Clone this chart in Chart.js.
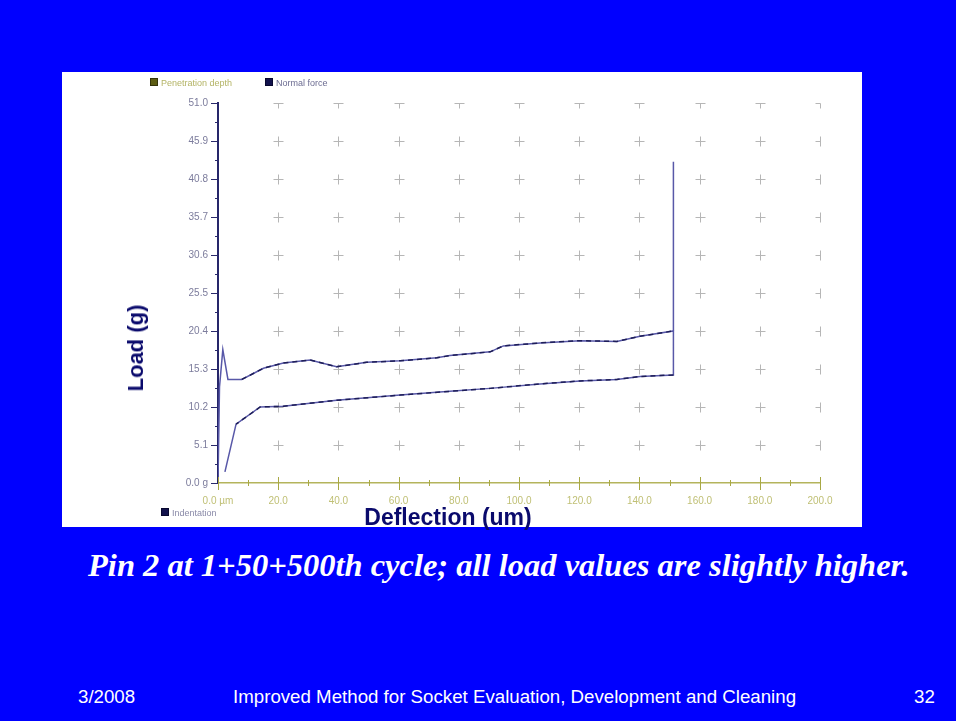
<!DOCTYPE html>
<html>
<head>
<meta charset="utf-8">
<script src="https://cdn.jsdelivr.net/npm/chart.js@4.4.0/dist/chart.umd.min.js"></script>
<style>
    body {
        margin: 0;
        width: 956px;
        height: 721px;
        overflow: hidden;
        position: relative;
        background: #0000ff;
        font-family: Arial, "Liberation Sans", sans-serif;
    }
    #panel {
        position: absolute;
        left: 62px;
        top: 72px;
        width: 800px;
        height: 455px;
        background: #ffffff;
    }
    #chart1 { position: absolute; left: 0; top: 0; }
    .legend {
        position: absolute;
        font-size: 9px;
        line-height: 9px;
        white-space: nowrap;
    }
    .legend i {
        display: inline-block;
        width: 6px;
        height: 6px;
        margin-right: 3px;
    }
    .axis-title {
        position: absolute;
        font-weight: bold;
        color: #0a0a6c;
        white-space: nowrap;
    }
    #yTitle {
        left: 136px;
        top: 348px;
        font-size: 22px;
        transform: translate(-50%, -50%) rotate(-90deg);
    }
    #xTitle {
        left: 448px;
        top: 517px;
        font-size: 23px;
        transform: translate(-50%, -50%);
    }
    #caption {
        position: absolute;
        left: 88px;
        top: 547px;
        color: #ffffff;
        font-family: "Liberation Serif", "Times New Roman", serif;
        font-weight: bold;
        font-style: italic;
        font-size: 32.5px;
        white-space: nowrap;
    }
    .footer {
        position: absolute;
        top: 686px;
        color: #ffffff;
        font-size: 18.7px;
        white-space: nowrap;
    }
</style>
</head>
<body>

<div id="panel">
    <canvas id="chart1" width="800" height="455"></canvas>
    <div class="legend" style="left: 88px; top: 6px;">
        <i style="background:#5c5c12; border:1px solid #34340a;"></i><span style="color:#b4b466;">Penetration depth</span>
        <span style="display:inline-block; width:28px;"></span>
        <i style="background:#12124c; border:1px solid #08082e;"></i><span style="color:#6c6c92;">Normal force</span>
    </div>
    <div class="legend" style="left: 99px; top: 436px;">
        <i style="background:#12124c; border:1px solid #08082e;"></i><span style="color:#8a8aa8;">Indentation</span>
    </div>
</div>

<div id="yTitle" class="axis-title">Load (g)</div>
<div id="xTitle" class="axis-title">Deflection (um)</div>

<div id="caption">Pin 2 at 1+50+500th cycle; all load values are slightly higher.</div>

<div class="footer" style="left: 78px;">3/2008</div>
<div class="footer" style="left: 233px;">Improved Method for Socket Evaluation, Development and Cleaning</div>
<div class="footer" style="left: 914px;">32</div>

<script>
// loading stroke (deflection um, load g)
const loadX = [0, 0.5, 1.6, 3.3, 7.9, 15.1, 21.7, 30.6, 39.4, 49.4, 60.5, 72.7, 77.0, 90.4, 94.8, 107.0, 120.3, 132.5, 140.2, 151.3];
const loadY = [0, 12.9, 17.9, 13.9, 13.9, 15.4, 16.1, 16.5, 15.6, 16.2, 16.4, 16.8, 17.1, 17.6, 18.4, 18.8, 19.1, 19.0, 19.7, 20.4];

// force spike at full travel
const peakX = [151.3];
const peakY = [43.1];

// unloading stroke
const unloadX = [151.3, 140.2, 132.5, 120.3, 107.0, 90.4, 77.0, 60.5, 39.4, 21.7, 14.0, 6.0, 2.3];
const unloadY = [14.5, 14.3, 13.9, 13.7, 13.3, 12.7, 12.3, 11.8, 11.1, 10.3, 10.2, 7.9, 1.5];

const xTicks = [0, 20, 40, 60, 80, 100, 120, 140, 160, 180, 200];
const xTickLabels = ['0.0 µm', '20.0', '40.0', '60.0', '80.0', '100.0', '120.0', '140.0', '160.0', '180.0', '200.0'];
const yTicks = [0, 5.1, 10.2, 15.3, 20.4, 25.5, 30.6, 35.7, 40.8, 45.9, 51.0];
const yTickLabels = ['0.0 g', '5.1', '10.2', '15.3', '20.4', '25.5', '30.6', '35.7', '40.8', '45.9', '51.0'];

function toPoints(xs, ys) {
    return xs.map(function (x, i) { return { x: x, y: ys[i] }; });
}

const tracePoints = toPoints(loadX, loadY)
    .concat(toPoints(peakX, peakY))
    .concat(toPoints(unloadX, unloadY));

// grid crosses behind the trace, axis tick marks on top
const axisMarks = {
    id: 'axisMarks',
    beforeDatasetsDraw(chart) {
        const ctx = chart.ctx;
        const xs = chart.scales.x, ys = chart.scales.y;
        ctx.save();
        ctx.strokeStyle = '#b6b6b6';
        ctx.lineWidth = 1;
        xTicks.slice(1).forEach(function (xv) {
            yTicks.slice(1).forEach(function (yv) {
                const px = Math.round(xs.getPixelForValue(xv)) + 0.5;
                const py = Math.round(ys.getPixelForValue(yv)) + 0.5;
                const lastCol = xv === xTicks[xTicks.length - 1];
                const topRow = yv === yTicks[yTicks.length - 1];
                ctx.beginPath();
                ctx.moveTo(px - 5, py);
                ctx.lineTo(lastCol ? px : px + 5, py);
                ctx.moveTo(px, topRow ? py : py - 5);
                ctx.lineTo(px, py + 5);
                ctx.stroke();
            });
        });
        ctx.restore();
    },
    afterDraw(chart) {
        const ctx = chart.ctx;
        const xs = chart.scales.x, ys = chart.scales.y;
        const ax = Math.round(xs.getPixelForValue(0));
        const ay = Math.round(ys.getPixelForValue(0));
        ctx.save();
        ctx.lineWidth = 1;

        // y axis: major every tick, minor halfway
        ctx.strokeStyle = '#2a2a6c';
        ctx.beginPath();
        yTicks.forEach(function (yv, i) {
            const py = Math.round(ys.getPixelForValue(yv)) + 0.5;
            ctx.moveTo(ax - 7, py);
            ctx.lineTo(ax, py);
            if (i > 0) {
                const my = Math.round(ys.getPixelForValue((yv + yTicks[i - 1]) / 2)) + 0.5;
                ctx.moveTo(ax - 3, my);
                ctx.lineTo(ax, my);
            }
        });
        ctx.stroke();

        // x axis
        ctx.strokeStyle = '#a8a844';
        ctx.beginPath();
        xTicks.forEach(function (xv, i) {
            const px = Math.round(xs.getPixelForValue(xv)) + 0.5;
            ctx.moveTo(px, ay - 6);
            ctx.lineTo(px, ay + 7);
            if (i > 0) {
                const mx = Math.round(xs.getPixelForValue((xv + xTicks[i - 1]) / 2)) + 0.5;
                ctx.moveTo(mx, ay - 3);
                ctx.lineTo(mx, ay + 3);
            }
        });
        ctx.stroke();
        ctx.restore();
    }
};

const ctx = document.getElementById('chart1');
const myChart = new Chart(ctx, {
    type: 'scatter',
    data: {
        datasets: [{
            label: 'Normal force',
            data: tracePoints,
            showLine: true,
            borderColor: '#5858a8',
            borderWidth: 1.5,
            pointRadius: 0,
            order: 2
        }, {
            label: 'loading',
            data: toPoints(loadX.slice(4), loadY.slice(4)),
            showLine: true,
            borderColor: '#1e1e58',
            borderWidth: 1.5,
            borderDash: [5, 4],
            pointRadius: 0,
            order: 1
        }, {
            label: 'unloading',
            data: toPoints(unloadX.slice(0, 12), unloadY.slice(0, 12)),
            showLine: true,
            borderColor: '#1e1e58',
            borderWidth: 1.5,
            borderDash: [5, 4],
            pointRadius: 0,
            order: 1
        }]
    },
    options: {
        responsive: false,
        animation: false,
        devicePixelRatio: 1,
        layout: {
            padding: { left: 0, top: 31, right: 42, bottom: 0 }
        },
        plugins: {
            legend: { display: false },
            tooltip: { enabled: false }
        },
        scales: {
            x: {
                type: 'linear',
                min: 0,
                max: 200,
                afterBuildTicks: function (scale) {
                    scale.ticks = xTicks.map(function (v) { return { value: v }; });
                },
                afterFit: function (scale) {
                    scale.height = 44;
                },
                ticks: {
                    autoSkip: false,
                    maxRotation: 0,
                    padding: 12,
                    color: '#c0c076',
                    font: { family: 'Liberation Sans', size: 10 },
                    callback: function (value, index) {
                        return xTickLabels[index];
                    }
                },
                grid: { display: false, drawTicks: false },
                border: { display: true, color: '#b4b45c', width: 1.5 }
            },
            y: {
                type: 'linear',
                min: 0,
                max: 51,
                afterBuildTicks: function (scale) {
                    scale.ticks = yTicks.map(function (v) { return { value: v }; });
                },
                afterFit: function (scale) {
                    scale.width = 156;
                },
                ticks: {
                    autoSkip: false,
                    padding: 10,
                    color: '#7c7c9c',
                    font: { family: 'Liberation Sans', size: 10 },
                    callback: function (value, index) {
                        return yTickLabels[index];
                    }
                },
                grid: { display: false, drawTicks: false },
                border: { display: true, color: '#26266a', width: 2 }
            }
        }
    },
    plugins: [axisMarks]
});
</script>
</body>
</html>
